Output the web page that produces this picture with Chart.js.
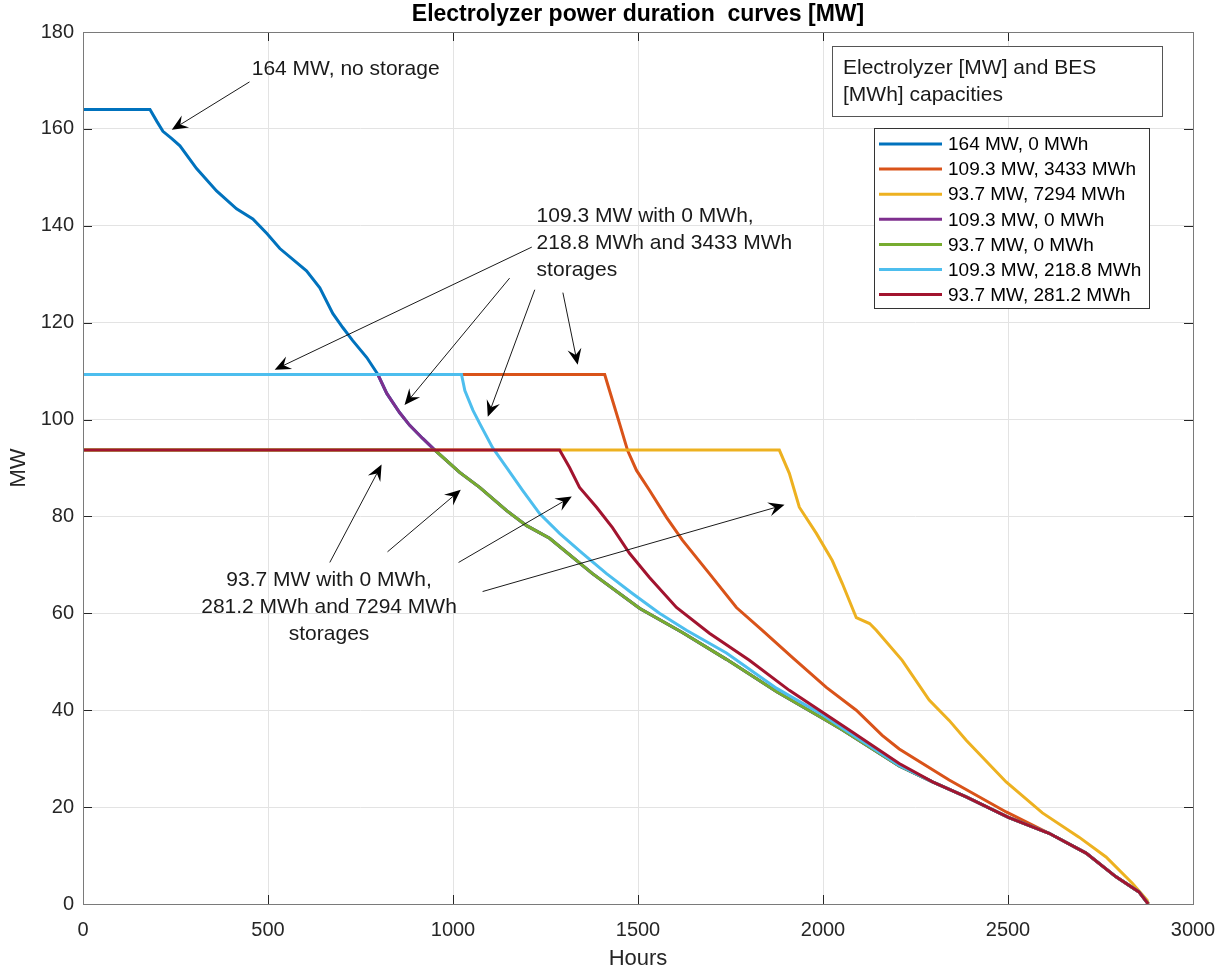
<!DOCTYPE html>
<html>
<head>
<meta charset="utf-8">
<title>Electrolyzer power duration curves</title>
<script src="https://cdn.jsdelivr.net/npm/chart.js@4.4.1/dist/chart.umd.min.js"></script>
<style>
    html, body { margin: 0; padding: 0; background: #fff; }
    #wrap { width: 1221px; height: 972px; }
</style>
</head>
<body>
<div id="wrap"><canvas id="pdc" width="1221" height="972"></canvas></div>
<script>
// ---- values (hours, MW) ----
const xTicks = [0, 500, 1000, 1500, 2000, 2500, 3000];
const yTicks = [0, 20, 40, 60, 80, 100, 120, 140, 160, 180];

const seriesLabels = ['164 MW, 0 MWh', '109.3 MW, 3433 MWh', '93.7 MW, 7294 MWh', '109.3 MW, 0 MWh',
                      '93.7 MW, 0 MWh', '109.3 MW, 218.8 MWh', '93.7 MW, 281.2 MWh'];
const seriesColors = ['#0072BD', '#D95319', '#EDB120', '#7E2F8E', '#77AC30', '#4DBEEE', '#A2142F'];

// common tail of the no-storage curves (below 93.7 MW)
const tailHours = [1018, 1072, 1145, 1199, 1261, 1377, 1505, 1621, 1739, 1875, 2000, 2053, 2206, 2296, 2387, 2501, 2611, 2711, 2792, 2854, 2879];
const tailMW    = [89.1, 86.0, 81.2, 78.1, 75.5, 68.2, 61.0, 56.0, 50.5, 43.8, 38.3, 35.9, 28.5, 25.2, 22.1, 17.9, 14.6, 10.5, 5.6, 2.5, 0];
const lowTailHours = [2296, 2387, 2501, 2611, 2711, 2792, 2854, 2879];
const lowTailMW    = [25.2, 22.1, 17.9, 14.6, 10.5, 5.6, 2.5, 0];

const purpleHours = [0, 797, 821, 856, 883, 918, 951];
const purpleMW    = [109.3, 109.3, 105.4, 101.4, 98.8, 96.1, 93.7];

const blueHours = [0, 181, 200, 216, 240, 262, 307, 361, 415, 459, 497, 532, 604, 640, 675, 702, 729, 767, 797];
const blueMW    = [164, 164, 161.5, 159.5, 158, 156.5, 151.8, 147.2, 143.5, 141.4, 138.4, 135.3, 130.7, 127.2, 121.9, 119, 116.3, 112.8, 109.3];

const greenHours = [0, 951];
const greenMW    = [93.7, 93.7];

const orangeHours = [0, 1410, 1423, 1450, 1472, 1496, 1531, 1577, 1620, 1693, 1766, 1836, 1917, 2009, 2090, 2160, 2206, 2341, 2495, 2611];
const orangeMW    = [109.3, 109.3, 106, 99.2, 93.6, 89.5, 85.4, 79.8, 75.1, 68.2, 61.2, 56.5, 50.9, 44.7, 40, 34.8, 32, 25.6, 19, 14.6];

const yellowHours = [0, 1882, 1909, 1936, 1982, 2025, 2052, 2090, 2126, 2144, 2214, 2287, 2341, 2387, 2495, 2593, 2692, 2765, 2836, 2876, 2879];
const yellowMW    = [93.7, 93.7, 88.9, 81.9, 76.5, 70.9, 66.2, 59.1, 57.9, 56.5, 50.3, 42.1, 37.9, 33.8, 25.2, 18.8, 13.8, 9.7, 4.3, 0.8, 0];

const lightBlueHours = [0, 1023, 1032, 1054, 1072, 1107, 1145, 1188, 1234, 1288, 1350, 1415, 1485, 1558, 1631, 1739, 1875, 2000, 2053, 2206];
const lightBlueMW    = [109.3, 109.3, 106, 101.9, 99.2, 94.2, 90.1, 85.4, 80.6, 76.5, 72.4, 68.2, 64.1, 60, 56.5, 51.8, 44.5, 39, 36.3, 28.6];

const redHours = [0, 1288, 1315, 1342, 1388, 1431, 1477, 1531, 1604, 1693, 1801, 1909, 2071, 2206];
const redMW    = [93.7, 93.7, 90.1, 86, 81.9, 77.7, 72.4, 67.4, 61.2, 55.9, 50.3, 44.1, 35.9, 29];

// annotations: text anchor and arrows (tail -> head), in hours / MW
const noteTexts = [
    ['164 MW, no storage'],
    ['109.3 MW with 0 MWh,', '218.8 MWh and 3433 MWh', 'storages'],
    ['93.7 MW with 0 MWh,', '281.2 MWh and 7294 MWh', 'storages']
];
const noteAnchors = [[456, 172.4], [1226, 141.9], [665, 66.9]];
const noteAlign = ['left', 'left', 'center'];
const arrowList = [
    [450, 169.7, 240, 159.8],
    [1213, 135.6, 518, 110.3],
    [1153, 129.2, 869, 103.0],
    [1221, 126.8, 1094, 100.6],
    [1297, 126.2, 1337, 111.3],
    [667, 70.5, 807, 90.7],
    [823, 72.7, 1021, 85.5],
    [1015, 70.5, 1321, 84.1],
    [1080, 64.5, 1896, 82.4]
];

const FONT = '"Liberation Sans", Arial, Helvetica, sans-serif';

function toPoints(hours, mw) {
    return hours.map(function(h, i) { return { x: h, y: mw[i] }; });
}

const seriesPoints = [
    toPoints(blueHours.concat(purpleHours.slice(2), tailHours), blueMW.concat(purpleMW.slice(2), tailMW)),
    toPoints(orangeHours.concat(lowTailHours.slice(2)), orangeMW.concat(lowTailMW.slice(2))),
    toPoints(yellowHours, yellowMW),
    toPoints(purpleHours.concat(tailHours), purpleMW.concat(tailMW)),
    toPoints(greenHours.concat(tailHours), greenMW.concat(tailMW)),
    toPoints(lightBlueHours.concat(lowTailHours), lightBlueMW.concat(lowTailMW)),
    toPoints(redHours.concat(lowTailHours), redMW.concat(lowTailMW))
];

function drawArrow(ctx, x1, y1, x2, y2) {
    var ang = Math.atan2(y2 - y1, x2 - x1);
    var len = 16, half = 7, notch = 10;
    ctx.beginPath();
    ctx.moveTo(x1, y1);
    ctx.lineTo(x2 - Math.cos(ang) * notch, y2 - Math.sin(ang) * notch);
    ctx.stroke();
    ctx.save();
    ctx.translate(x2, y2);
    ctx.rotate(ang);
    ctx.beginPath();
    ctx.moveTo(0, 0);
    ctx.lineTo(-len, -half);
    ctx.lineTo(-notch, 0);
    ctx.lineTo(-len, half);
    ctx.closePath();
    ctx.fill();
    ctx.restore();
}

const matlabDecor = {
    id: 'matlabDecor',
    afterDatasetsDraw(chart) {
        var ctx = chart.ctx, xs = chart.scales.x, ys = chart.scales.y;
        ctx.save();
        ctx.strokeStyle = '#1a1a1a';
        ctx.fillStyle = '#000';
        ctx.lineWidth = 1;
        arrowList.forEach(function(a) {
            drawArrow(ctx, xs.getPixelForValue(a[0]), ys.getPixelForValue(a[1]),
                      xs.getPixelForValue(a[2]), ys.getPixelForValue(a[3]));
        });
        ctx.fillStyle = '#1a1a1a';
        ctx.font = '21px ' + FONT;
        ctx.textBaseline = 'middle';
        noteTexts.forEach(function(lines, i) {
            var px = xs.getPixelForValue(noteAnchors[i][0]);
            var py = ys.getPixelForValue(noteAnchors[i][1]);
            ctx.textAlign = noteAlign[i];
            lines.forEach(function(t, j) { ctx.fillText(t, px, py + j * 27); });
        });
        ctx.restore();
    },
    afterDraw(chart) {
        var ctx = chart.ctx, a = chart.chartArea;
        var xs = chart.scales.x, ys = chart.scales.y;
        ctx.save();
        // box + inward ticks
        ctx.strokeStyle = '#262626';
        ctx.lineWidth = 1;
        ctx.beginPath();
        xTicks.forEach(function(v) {
            var px = Math.round(xs.getPixelForValue(v)) + 0.5;
            ctx.moveTo(px, a.bottom); ctx.lineTo(px, a.bottom - 9);
            ctx.moveTo(px, a.top); ctx.lineTo(px, a.top + 9);
        });
        yTicks.forEach(function(v) {
            var py = Math.round(ys.getPixelForValue(v)) + 0.5;
            ctx.moveTo(a.left, py); ctx.lineTo(a.left + 9, py);
            ctx.moveTo(a.right, py); ctx.lineTo(a.right - 9, py);
        });
        ctx.stroke();
        ctx.strokeStyle = '#7a7a7a';
        ctx.strokeRect(Math.round(a.left) + 0.5, Math.round(a.top) + 0.5,
                       Math.round(a.right - a.left), Math.round(a.bottom - a.top));

        // title
        ctx.fillStyle = '#000';
        ctx.font = 'bold 23px ' + FONT;
        ctx.textAlign = 'center';
        ctx.textBaseline = 'middle';
        ctx.fillText('Electrolyzer power duration  curves [MW]', (a.left + a.right) / 2, 15);

        // legend title box
        var bx = a.right - 361, by = a.top + 14;
        ctx.fillStyle = '#fff';
        ctx.fillRect(bx, by, 330, 70);
        ctx.strokeStyle = '#555';
        ctx.strokeRect(bx + 0.5, by + 0.5, 330, 70);
        ctx.fillStyle = '#1a1a1a';
        ctx.font = '21px ' + FONT;
        ctx.textAlign = 'left';
        ctx.fillText('Electrolyzer [MW] and BES', bx + 11, by + 22);
        ctx.fillText('[MWh] capacities', bx + 11, by + 49);

        // series legend
        var lx = a.right - 319, ly = a.top + 96;
        ctx.fillStyle = '#fff';
        ctx.fillRect(lx, ly, 275, 180);
        ctx.strokeStyle = '#333';
        ctx.strokeRect(lx + 0.5, ly + 0.5, 275, 180);
        ctx.font = '19px ' + FONT;
        chart.data.datasets.forEach(function(ds, i) {
            var ey = ly + 16 + i * 25.1;
            ctx.strokeStyle = ds.borderColor;
            ctx.lineWidth = 3;
            ctx.beginPath();
            ctx.moveTo(lx + 5, ey); ctx.lineTo(lx + 68, ey);
            ctx.stroke();
            ctx.fillStyle = '#000';
            ctx.fillText(ds.label, lx + 74, ey + 1);
        });
        ctx.restore();
    }
};

const datasets = seriesLabels.map(function(lbl, i) {
    return {
        label: lbl,
        data: seriesPoints[i],
        borderColor: seriesColors[i],
        backgroundColor: seriesColors[i],
        borderWidth: 3,
        pointRadius: 0,
        tension: 0,
        fill: false,
        order: seriesLabels.length - i
    };
});

new Chart(document.getElementById('pdc'), {
    type: 'line',
    data: { datasets: datasets },
    options: {
        responsive: false,
        animation: false,
        layout: { padding: { top: 32, right: 28, left: 0, bottom: 0 } },
        plugins: { legend: { display: false }, title: { display: false }, tooltip: { enabled: false } },
        scales: {
            x: {
                type: 'linear', min: 0, max: 3000,
                afterFit: function(s) { s.height = 68; s.paddingLeft = 0; s.paddingRight = 0; },
                afterBuildTicks: function(s) { s.ticks = xTicks.map(function(v) { return { value: v }; }); },
                grid: { color: '#e3e3e3', drawTicks: false },
                border: { display: false },
                ticks: { color: '#262626', padding: 14, font: { family: FONT, size: 20 }, maxRotation: 0,
                         callback: function(v) { return String(v); } },
                title: { display: true, text: 'Hours', color: '#262626', font: { family: FONT, size: 22, lineHeight: 1 }, padding: { top: 0, bottom: 2 } }
            },
            y: {
                type: 'linear', min: 0, max: 180,
                afterFit: function(s) { s.width = 83; s.paddingTop = 0; s.paddingBottom = 0; },
                afterBuildTicks: function(s) { s.ticks = yTicks.map(function(v) { return { value: v }; }); },
                grid: { color: '#e3e3e3', drawTicks: false },
                border: { display: false },
                ticks: { color: '#262626', padding: 9, font: { family: FONT, size: 20 },
                         callback: function(v) { return String(v); } },
                title: { display: true, text: 'MW', color: '#262626', font: { family: FONT, size: 22, lineHeight: 1 }, padding: { top: 8, bottom: 0 } }
            }
        }
    },
    plugins: [matlabDecor]
});
</script>
</body>
</html>
